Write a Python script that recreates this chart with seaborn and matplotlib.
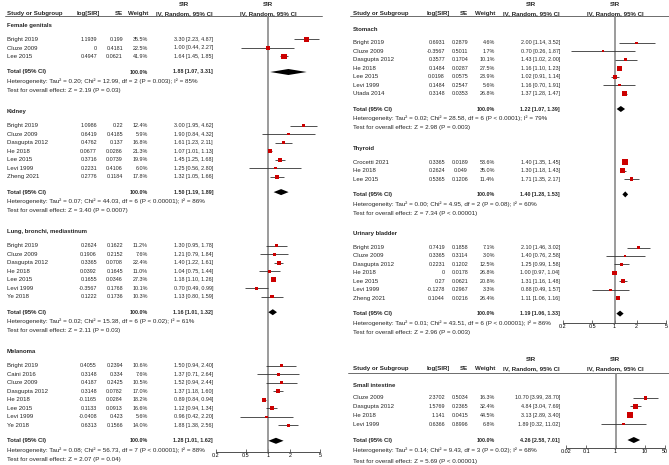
import matplotlib
matplotlib.use("Agg")
import matplotlib.pyplot as plt
from matplotlib.ticker import NullLocator
import numpy as np
import pandas as pd
import seaborn as sns

# ---------------- data ----------------
groups = ["Female genitals", "Kidney", "Lung, bronchi, mediastinum", "Melanoma",
          "Stomach", "Thyroid", "Urinary bladder", "Small intestine"]
tot_sir = [1.88, 1.50, 1.16, 1.28, 1.22, 1.40, 1.19, 4.26]
tot_lo = [1.07, 1.19, 1.01, 1.01, 1.07, 1.28, 1.06, 2.58]
tot_hi = [3.31, 1.89, 1.32, 1.62, 1.39, 1.53, 1.33, 7.01]
het_text = [
    "Heterogeneity: Tau² = 0.20; Chi² = 12.99, df = 2 (P = 0.003); I² = 85%",
    "Heterogeneity: Tau² = 0.07; Chi² = 44.03, df = 6 (P < 0.00001); I² = 86%",
    "Heterogeneity: Tau² = 0.02; Chi² = 15.38, df = 6 (P = 0.02); I² = 61%",
    "Heterogeneity: Tau² = 0.08; Chi² = 56.73, df = 7 (P < 0.00001); I² = 88%",
    "Heterogeneity: Tau² = 0.02; Chi² = 28.58, df = 6 (P < 0.0001); I² = 79%",
    "Heterogeneity: Tau² = 0.00; Chi² = 4.95, df = 2 (P = 0.08); I² = 60%",
    "Heterogeneity: Tau² = 0.01; Chi² = 43.51, df = 6 (P < 0.00001); I² = 86%",
    "Heterogeneity: Tau² = 0.14; Chi² = 9.43, df = 3 (P = 0.02); I² = 68%",
]
test_text = [
    "Test for overall effect: Z = 2.19 (P = 0.03)",
    "Test for overall effect: Z = 3.40 (P = 0.0007)",
    "Test for overall effect: Z = 2.11 (P = 0.03)",
    "Test for overall effect: Z = 2.07 (P = 0.04)",
    "Test for overall effect: Z = 2.98 (P = 0.003)",
    "Test for overall effect: Z = 7.34 (P < 0.00001)",
    "Test for overall effect: Z = 2.96 (P = 0.003)",
    "Test for overall effect: Z = 5.69 (P < 0.00001)",
]

study_group = ([0] * 3 + [1] * 7 + [2] * 7 + [3] * 8 + [4] * 7 + [5] * 3 + [6] * 7 + [7] * 4)
study_name = [
    "Bright 2019", "Cluze 2009", "Lee 2015",
    "Bright 2019", "Cluze 2009", "Dasgupta 2012", "He 2018", "Lee 2015", "Levi 1999", "Zheng 2021",
    "Bright 2019", "Cluze 2009", "Dasgupta 2012", "He 2018", "Lee 2015", "Levi 1999", "Ye 2018",
    "Bright 2019", "Caini 2016", "Cluze 2009", "Dasgupta 2012", "He 2018", "Lee 2015", "Levi 1999", "Ye 2018",
    "Bright 2019", "Cluze 2009", "Dasgupta 2012", "He 2018", "Lee 2015", "Levi 1999", "Utada 2014",
    "Crocetti 2021", "He 2018", "Lee 2015",
    "Bright 2019", "Cluze 2009", "Dasgupta 2012", "He 2018", "Lee 2015", "Levi 1999", "Zheng 2021",
    "Cluze 2009", "Dasgupta 2012", "He 2018", "Levi 1999",
]
log_sir = [
    1.1939, 0, 0.4947,
    1.0986, 0.6419, 0.4762, 0.0677, 0.3716, 0.2231, 0.2776,
    0.2624, 0.1906, 0.3365, 0.0392, 0.1655, -0.3567, 0.1222,
    0.4055, 0.3148, 0.4187, 0.3148, -0.1165, 0.1133, -0.0408, 0.6313,
    0.6931, -0.3567, 0.3577, 0.1484, 0.0198, 0.1484, 0.3148,
    0.3365, 0.2624, 0.5365,
    0.7419, 0.3365, 0.2231, 0, 0.27, -0.1278, 0.1044,
    2.3702, 1.5769, 1.141, 0.6366,
]
se = [
    0.199, 0.4181, 0.0621,
    0.22, 0.4185, 0.137, 0.0286, 0.0739, 0.4106, 0.1184,
    0.1622, 0.2152, 0.0708, 0.1645, 0.0346, 0.1768, 0.1736,
    0.2394, 0.334, 0.2425, 0.0782, 0.0284, 0.0913, 0.423, 0.1566,
    0.2879, 0.5011, 0.1704, 0.0287, 0.0575, 0.2547, 0.0353,
    0.0189, 0.049, 0.1206,
    0.1858, 0.3114, 0.1202, 0.0178, 0.0621, 0.2967, 0.0216,
    0.5034, 0.2365, 0.0415, 0.8996,
]
weight = [
    35.5, 22.5, 41.9,
    12.4, 5.9, 16.8, 21.3, 19.9, 6.0, 17.8,
    11.2, 7.6, 22.4, 11.0, 27.3, 10.1, 10.3,
    10.6, 7.6, 10.5, 17.0, 18.2, 16.6, 5.6, 14.0,
    4.6, 1.7, 10.1, 27.5, 23.9, 5.6, 26.8,
    53.6, 35.0, 11.4,
    7.1, 3.0, 12.5, 26.8, 20.8, 3.3, 26.4,
    16.3, 32.4, 44.5, 6.8,
]
sir = [
    3.30, 1.00, 1.64,
    3.00, 1.90, 1.61, 1.07, 1.45, 1.25, 1.32,
    1.30, 1.21, 1.40, 1.04, 1.18, 0.70, 1.13,
    1.50, 1.37, 1.52, 1.37, 0.89, 1.12, 0.96, 1.88,
    2.00, 0.70, 1.43, 1.16, 1.02, 1.16, 1.37,
    1.40, 1.30, 1.71,
    2.10, 1.40, 1.25, 1.00, 1.31, 0.88, 1.11,
    10.70, 4.84, 3.13, 1.89,
]
ci_lo = [
    2.23, 0.44, 1.45,
    1.95, 0.84, 1.23, 1.01, 1.25, 0.56, 1.05,
    0.95, 0.79, 1.22, 0.75, 1.10, 0.49, 0.80,
    0.94, 0.71, 0.94, 1.18, 0.84, 0.94, 0.42, 1.38,
    1.14, 0.26, 1.02, 1.10, 0.91, 0.70, 1.28,
    1.35, 1.18, 1.35,
    1.46, 0.76, 0.99, 0.97, 1.16, 0.49, 1.06,
    3.99, 3.04, 2.89, 0.32,
]
ci_hi = [
    4.87, 2.27, 1.85,
    4.62, 4.32, 2.11, 1.13, 1.68, 2.80, 1.66,
    1.78, 1.84, 1.61, 1.44, 1.26, 0.99, 1.59,
    2.40, 2.64, 2.44, 1.60, 0.94, 1.34, 2.20, 2.56,
    3.52, 1.87, 2.00, 1.23, 1.14, 1.91, 1.47,
    1.45, 1.43, 2.17,
    3.02, 2.58, 1.58, 1.04, 1.48, 1.57, 1.16,
    28.70, 7.69, 3.40, 11.02,
]
ticks_main = [0.2, 0.5, 1, 2, 5]
ticks_small = [0.02, 0.1, 1, 10, 50]

df = pd.DataFrame(dict(group=study_group, study=study_name, log_sir=log_sir, se=se,
                       weight=weight, sir=sir, lo=ci_lo, hi=ci_hi))

# ---------------- style ----------------
sns.set_style("white")
plt.rcParams["font.family"] = ["Liberation Sans", "DejaVu Sans"]
FS_NUM = 3.9     # numeric columns
FS_TXT = 4.35    # study names / titles
FS_LONG = 4.5    # heterogeneity / overall effect lines
FS_HDR = 4.4     # headers
RED = "#cc0000"
W, H = 669, 465

fig = plt.figure(figsize=(W / 100, H / 100), dpi=100)
bg = fig.add_axes([0, 0, 1, 1])
bg.set_xlim(0, W)
bg.set_ylim(H, 0)
bg.axis("off")


def layout(n_each, start, step, first, to_total, to_het, to_test, to_next):
    out = []
    y = start
    for n in n_each:
        studies = [y + first + i * step for i in range(n)]
        total = studies[-1] + to_total
        het = total + to_het
        test = het + to_test
        out.append((y, studies, total, het, test))
        y = test + to_next
    return out


def forest_ax(x0, x1, yt, yb, xlim, ticks):
    ax = fig.add_axes([x0 / W, 1 - yb / H, (x1 - x0) / W, (yb - yt) / H])
    ax.set_xscale("log")
    ax.set_xlim(*xlim)
    ax.set_ylim(yb, yt)
    ax.patch.set_alpha(0)
    for s in ["left", "right", "top"]:
        ax.spines[s].set_visible(False)
    ax.spines["bottom"].set_color("#333333")
    ax.spines["bottom"].set_linewidth(0.6)
    ax.set_xticks(ticks)
    ax.set_xticklabels([f"{t:g}" for t in ticks])
    ax.xaxis.set_minor_locator(NullLocator())
    ax.tick_params(axis="x", bottom=True, direction="in", length=2.5, width=0.5,
                   pad=1.0, labelsize=FS_NUM, colors="#333333")
    ax.tick_params(axis="x", labelcolor="black")
    ax.set_yticks([])
    ax.axvline(1, color="#808080", lw=1.1, zorder=1)
    return ax


def header(cols, y1, y2, yline, lx0, lx1):
    kw = dict(fontsize=FS_HDR, fontweight="bold", va="center")
    bg.text(cols["study"], y2, "Study or Subgroup", ha="left", **kw)
    bg.text(cols["log_h"], y2, "log[SIR]", ha="right", **kw)
    bg.text(cols["se"], y2, "SE", ha="right", **kw)
    bg.text(cols["w"], y2, "Weight", ha="right", **kw)
    bg.text(cols["ci"], y2, "IV, Random, 95% CI", ha="right", **kw)
    bg.text(cols["sir_c"], y1, "SIR", ha="center", **kw)
    bg.text(cols["fc"], y1, "SIR", ha="center", **kw)
    bg.text(cols["fc"], y2, "IV, Random, 95% CI", ha="center", **kw)
    bg.plot([lx0, lx1], [yline, yline], color="#555555", lw=0.6)


def draw_panel(ax, cols, gidx, rows):
    for g, (ty, sy, toty, hety, testy) in zip(gidx, rows):
        sub = df[df.group == g]
        bg.text(cols["study"], ty, groups[g], fontsize=FS_TXT, fontweight="bold",
                ha="left", va="center")
        for (_, r), y in zip(sub.iterrows(), sy):
            bg.text(cols["study"], y, r.study, fontsize=FS_TXT, ha="left", va="center")
            bg.text(cols["log"], y, f"{r.log_sir:g}", fontsize=FS_NUM, ha="right", va="center")
            bg.text(cols["se"], y, f"{r.se:g}", fontsize=FS_NUM, ha="right", va="center")
            bg.text(cols["w"], y, f"{r.weight:.1f}%", fontsize=FS_NUM, ha="right", va="center")
            bg.text(cols["ci"], y, f"{r.sir:.2f} [{r.lo:.2f}, {r.hi:.2f}]", fontsize=FS_NUM,
                    ha="right", va="center")
        ax.hlines(sy, sub.lo, sub.hi, color="#333333", lw=0.6, zorder=2)
        sns.scatterplot(x=sub.sir.values, y=sy, size=sub.weight.values, sizes=(1.5, 36),
                        size_norm=(0, 100), marker="s", color=RED, linewidth=0,
                        legend=False, ax=ax, zorder=3)
        bg.text(cols["study"], toty, "Total (95% CI)", ha="left", fontsize=FS_TXT,
                fontweight="bold", va="center")
        bg.text(cols["w"], toty, "100.0%", ha="right", fontsize=FS_NUM,
                fontweight="bold", va="center")
        bg.text(cols["ci"], toty, f"{tot_sir[g]:.2f} [{tot_lo[g]:.2f}, {tot_hi[g]:.2f}]",
                ha="right", fontsize=FS_NUM, fontweight="bold", va="center")
        ax.fill([tot_lo[g], tot_sir[g], tot_hi[g], tot_sir[g]],
                [toty, toty - 3.0, toty, toty + 3.0], color="black", lw=0, zorder=3)
        bg.text(cols["study"], hety, het_text[g], fontsize=FS_LONG, ha="left", va="center")
        bg.text(cols["study"], testy, test_text[g], fontsize=FS_LONG, ha="left", va="center")


# ---- left panel ----
cols_l = dict(study=7, log=97, log_h=100, se=123, w=148, ci=213, sir_c=184, fc=268)
header(cols_l, 4, 13.3, 16, 5, 322)
ax_l = forest_ax(216, 320, 16, 452, (0.2, 5), ticks_main)
rows_l = layout([3, 7, 7, 8], 25, 8.5, 14.5, 15.5, 9.3, 9.0, 20.8)
draw_panel(ax_l, cols_l, [0, 1, 2, 3], rows_l)

# ---- right top panel ----
cols_r = dict(study=353, log=445, log_h=450, se=468, w=495, ci=560, sir_c=531, fc=615)
header(cols_r, 4, 13.3, 16, 350, 669)
ax_r = forest_ax(563, 666, 16, 323, (0.2, 5), ticks_main)
rows_r = layout([7, 3, 7], 29.3, 8.45, 13.6, 15.4, 9.6, 9.0, 20.9)
draw_panel(ax_r, cols_r, [4, 5, 6], rows_r)

# ---- small intestine panel ----
cols_s = dict(study=353, log=445, log_h=450, se=468, w=495, ci=560, sir_c=531, fc=615)
header(cols_s, 359.3, 368.3, 373.3, 348, 669)
ax_s = forest_ax(566, 665, 373.3, 448, (0.02, 50), ticks_small)
rows_s = layout([4], 385, 8.77, 12.7, 16.0, 10.0, 11.7, 20.0)
draw_panel(ax_s, cols_s, [7], rows_s)

fig.savefig("out.png", dpi=100)
